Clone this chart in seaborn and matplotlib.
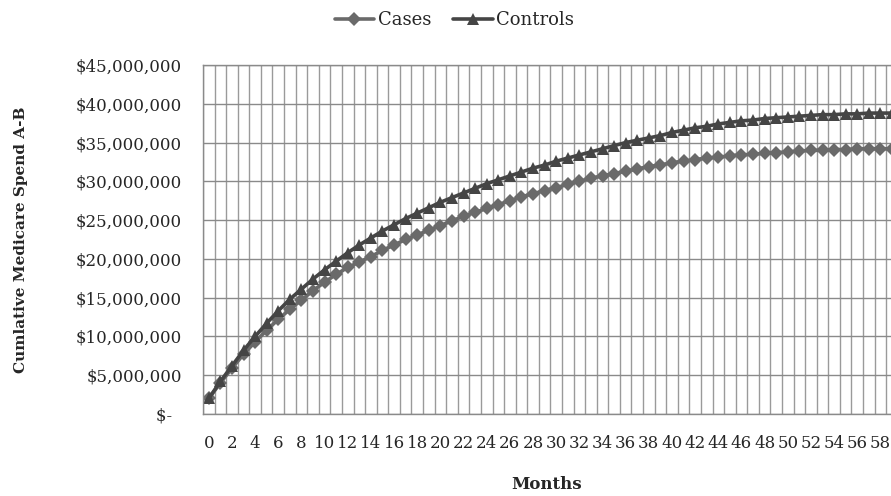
import numpy as np
import pandas as pd
import matplotlib
matplotlib.use("Agg")
import matplotlib.pyplot as plt
import seaborn as sns

# Months on the category axis
months = list(range(60))

# Cumulative Medicare spend (in $ millions)
cases = [2.0, 4.0, 5.9, 7.7, 9.3, 10.8, 12.2, 13.5, 14.7, 15.9,
         17.0, 18.0, 18.9, 19.6, 20.3, 21.1, 21.8, 22.5, 23.1, 23.7,
         24.3, 24.9, 25.5, 26.0, 26.5, 27.0, 27.5, 28.0, 28.4, 28.8,
         29.2, 29.6, 30.0, 30.4, 30.7, 31.0, 31.3, 31.6, 31.9, 32.1,
         32.4, 32.6, 32.8, 33.0, 33.1, 33.3, 33.4, 33.5, 33.6, 33.7,
         33.8, 33.9, 34.0, 34.0, 34.1, 34.1, 34.2, 34.2, 34.2, 34.2]
controls = [2.0, 4.2, 6.2, 8.2, 10.0, 11.7, 13.3, 14.8, 16.1, 17.4,
            18.6, 19.7, 20.8, 21.8, 22.7, 23.6, 24.4, 25.2, 25.9, 26.6,
            27.3, 27.9, 28.5, 29.1, 29.7, 30.2, 30.7, 31.2, 31.7, 32.1,
            32.6, 33.0, 33.4, 33.8, 34.2, 34.6, 35.0, 35.3, 35.6, 35.9,
            36.3, 36.6, 36.9, 37.1, 37.4, 37.6, 37.8, 37.9, 38.1, 38.2,
            38.3, 38.4, 38.5, 38.6, 38.6, 38.7, 38.7, 38.8, 38.8, 38.8]

y_ticks = [0, 5, 10, 15, 20, 25, 30, 35, 40, 45]
y_labels = ["$-  "] + ["${:,}".format(v * 1000000) for v in y_ticks[1:]]

df = pd.DataFrame({
    "Month": months * 2,
    "Spend": [v * 1e6 for v in cases] + [v * 1e6 for v in controls],
    "Group": ["Cases"] * len(months) + ["Controls"] * len(months),
})

sns.set_style("white")
plt.rcParams["font.family"] = ["DejaVu Serif"]

fig = plt.figure(figsize=(8.91, 4.96), dpi=100)
ax = fig.add_axes([203 / 891, 82 / 496, 688 / 891, 349 / 496])

# Grid first so the lines sit on top
ax.set_xticks(np.arange(-0.5, 59.5, 1), minor=True)
ax.grid(True, which="minor", axis="x", color="#9a9a9a", linewidth=1.0)
ax.grid(True, which="major", axis="y", color="#8a8a8a", linewidth=1.0)
ax.set_axisbelow(True)

sns.lineplot(data=df[df["Group"] == "Cases"], x="Month", y="Spend", ax=ax,
             color="#6a6a6a", linewidth=2.6, marker="D", markersize=7,
             markeredgewidth=0, label="Cases")
sns.lineplot(data=df[df["Group"] == "Controls"], x="Month", y="Spend", ax=ax,
             color="#454545", linewidth=2.6, marker="^", markersize=9,
             markeredgewidth=0, label="Controls")

ax.set_xlim(-0.5, -0.5 + 688 / 11.58)
ax.set_ylim(0, 45e6)
ax.set_xticks(range(0, 59, 2))
ax.set_xticklabels([str(m) for m in range(0, 59, 2)], fontsize=12)
ax.set_yticks([v * 1e6 for v in y_ticks])
ax.set_yticklabels(y_labels, fontsize=12)
ax.tick_params(axis="x", which="both", length=0, pad=15)
ax.tick_params(axis="y", length=0, pad=15)

for side in ["left", "bottom", "top"]:
    ax.spines[side].set_color("#8a8a8a")
    ax.spines[side].set_linewidth(1.0)
ax.spines["right"].set_visible(False)

ax.set_xlabel("Months", fontsize=12, fontweight="bold")
ax.xaxis.set_label_coords(0.5, -62 / 349)
ax.set_ylabel("Cumlative Medicare Spend A-B", fontsize=11, fontweight="bold")
ax.yaxis.set_label_coords(-175 / 688, 0.5)

handles, labels = ax.get_legend_handles_labels()
ax.get_legend().remove()
fig.legend(handles, labels, loc="center", bbox_to_anchor=(0.51, 1 - 20 / 496),
           ncol=2, frameon=False, fontsize=13, handlelength=2.2,
           columnspacing=1.2, handletextpad=0.2)

fig.savefig("out.png", dpi=100)
